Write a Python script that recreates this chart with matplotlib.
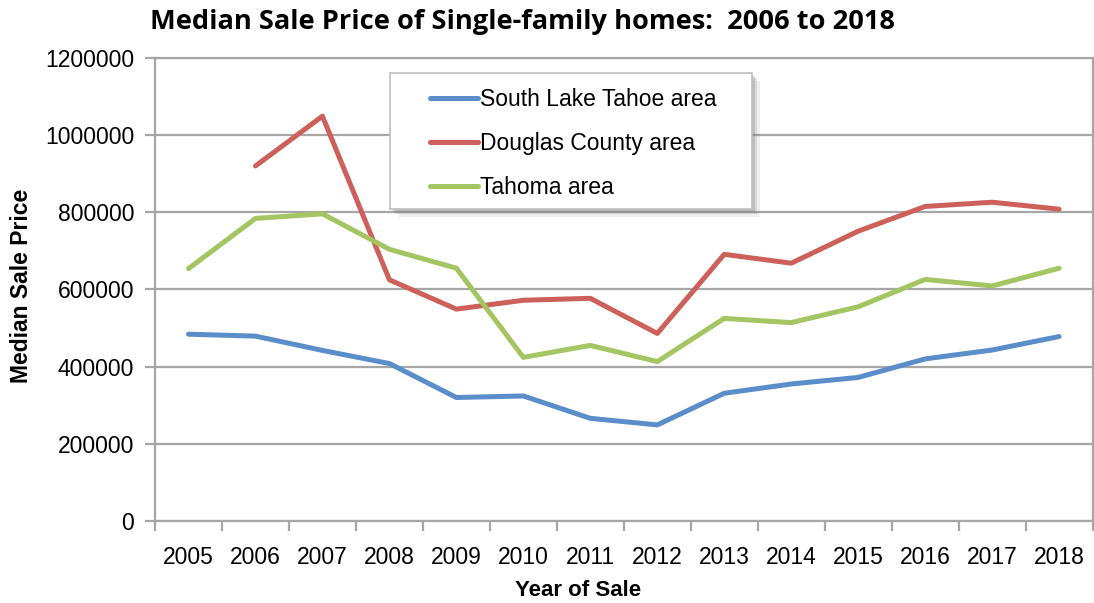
import numpy as np
import matplotlib.pyplot as plt
import matplotlib.patches as mpatches
from matplotlib.ticker import MultipleLocator, FixedLocator, StrMethodFormatter

years = ['2005', '2006', '2007', '2008', '2009', '2010', '2011',
         '2012', '2013', '2014', '2015', '2016', '2017', '2018']
south_lake_tahoe = [484000, 479000, 442000, 408000, 320000, 324000, 266000,
                    249000, 331000, 355000, 372000, 420000, 443000, 478000]
douglas_county = [np.nan, 920000, 1049000, 625000, 549000, 572000, 577000,
                  486000, 691000, 668000, 751000, 815000, 826000, 808000]
tahoma = [654000, 784000, 796000, 704000, 655000, 424000, 455000,
          413000, 525000, 514000, 555000, 626000, 609000, 655000]

plt.rcParams['font.family'] = ['Liberation Sans', 'DejaVu Sans']
grid_col = '#A6A6A6'

fig = plt.figure(figsize=(10.94, 6.03), dpi=100)
ax = fig.add_axes([0.1417, 0.136, 0.857, 0.768])

x = np.arange(len(years))
ax.plot(x, south_lake_tahoe, color='#5A8DCA', lw=3.6, label='South Lake Tahoe area',
        solid_capstyle='round', solid_joinstyle='round')
ax.plot(x, douglas_county, color='#CD605A', lw=3.6, label='Douglas County area',
        solid_capstyle='round', solid_joinstyle='round')
ax.plot(x, tahoma, color='#A5C462', lw=3.6, label='Tahoma area',
        solid_capstyle='round', solid_joinstyle='round')

ax.set_xlim(-0.5, len(years) - 0.5)
ax.set_ylim(0, 1200000)
ax.yaxis.set_major_locator(MultipleLocator(200000))
ax.yaxis.set_major_formatter(StrMethodFormatter('{x:.0f}'))
ax.yaxis.grid(True, color=grid_col, lw=1.6)
ax.set_axisbelow(True)

ax.set_xticks(x)
ax.set_xticklabels(years)
ax.xaxis.set_minor_locator(FixedLocator(np.arange(-0.5, len(years), 1.0)))
ax.tick_params(axis='x', which='major', length=0, pad=18, labelsize=16.5)
ax.tick_params(axis='x', which='minor', length=7, width=1.6, color=grid_col, direction='out')
ax.tick_params(axis='y', length=7, width=1.6, color=grid_col, direction='out', labelsize=16.5, pad=8)

for s in ax.spines.values():
    s.set_color(grid_col)
    s.set_linewidth(1.6)

fig.text(578 / 1094, 1 - 590 / 603, 'Year of Sale', ha='center', va='center',
         fontsize=16, fontweight='bold')
fig.text(22 / 1094, 1 - 286 / 603, 'Median Sale Price', ha='center', va='center',
         rotation=90, fontsize=16.5, fontweight='bold')

fig.text(522 / 1094, 1 - 22 / 603, 'Median Sale Price of Single-family homes:  2006 to 2018',
         ha='center', va='center', fontsize=19.6, fontweight='bold', family=['Open Sans', 'DejaVu Sans'])

# legend box with soft shadow
box = mpatches.Rectangle((0.2505, 0.6739), 0.386, 0.2937, transform=ax.transAxes,
                         facecolor='white', edgecolor='#BFBFBF', lw=1.2, zorder=4)
for off, a in [(6, 0.12), (4, 0.2), (2, 0.3)]:
    sh = mpatches.Shadow(box, off / 938, -off / 463, zorder=3)
    sh.set_facecolor('#808080')
    sh.set_edgecolor('none')
    sh.set_alpha(a)
    ax.add_patch(sh)
ax.add_patch(box)

leg = ax.legend(loc='upper left', bbox_to_anchor=(0.2932, 0.935), borderaxespad=0,
                borderpad=0, fontsize=16.5, frameon=False, labelspacing=0.92,
                handlelength=2.1, handletextpad=0.09)
leg.set_zorder(5)

fig.savefig('out.png', dpi=100)
